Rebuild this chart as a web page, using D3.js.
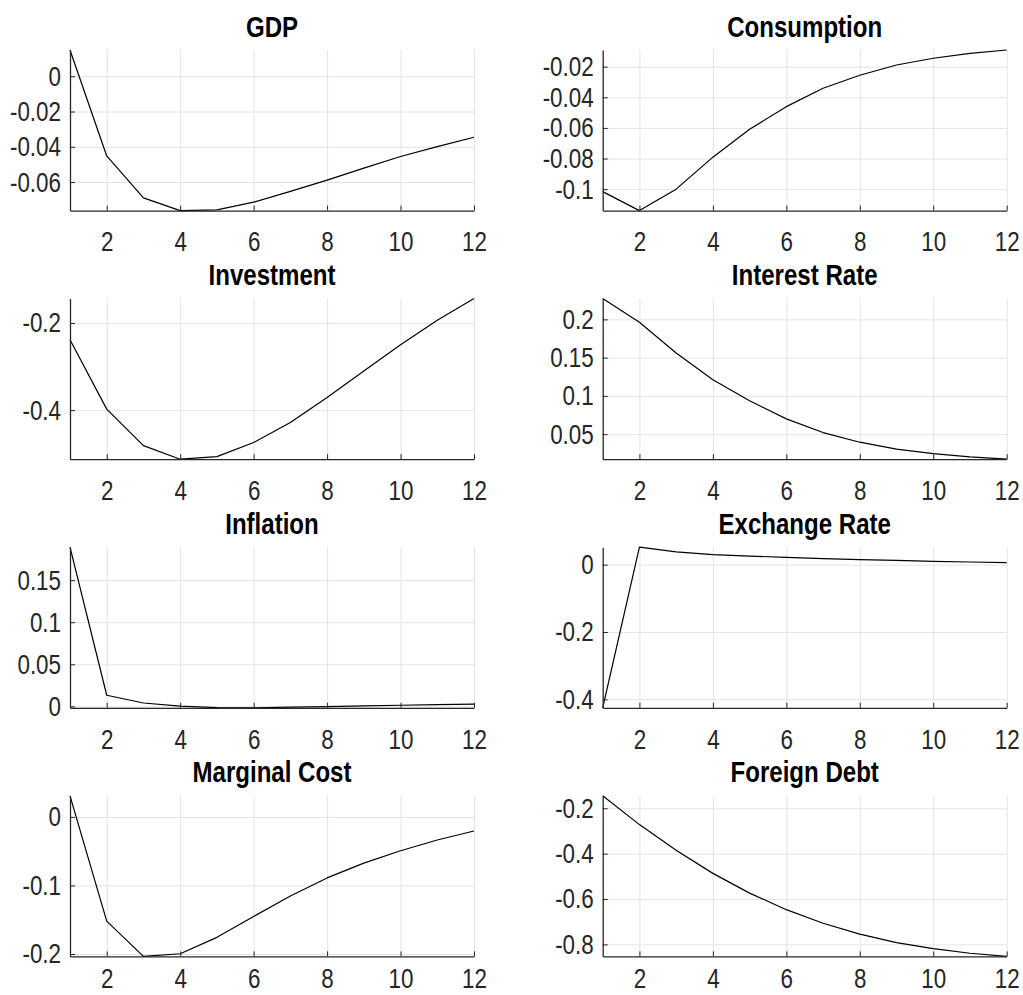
<!DOCTYPE html>
<html>
<head>
<meta charset="utf-8">
<script src="https://cdn.jsdelivr.net/npm/d3@7"></script>
<style>
  html, body { margin: 0; padding: 0; background: #fff; }
  svg { display: block; font-family: "Liberation Sans", Arial, Helvetica, sans-serif; }
</style>
</head>
<body>
<svg id="fig" width="1023" height="995"></svg>
<script>
// Impulse responses over 12 periods
const periods = [1, 2, 3, 4, 5, 6, 7, 8, 9, 10, 11, 12];
const xTicks = [2, 4, 6, 8, 10, 12];

const gdp = [0.0149, -0.0452, -0.0690, -0.0762, -0.0758, -0.0714, -0.0653, -0.0589, -0.0521, -0.0455, -0.0399, -0.0346];
const consumption = [-0.1016, -0.1140, -0.1000, -0.0791, -0.0609, -0.0461, -0.0341, -0.0256, -0.0189, -0.0145, -0.0113, -0.0091];
const investment = [-0.2384, -0.3977, -0.4814, -0.5126, -0.5066, -0.4744, -0.4285, -0.3710, -0.3100, -0.2499, -0.1940, -0.1441];
const interestRate = [0.2271, 0.1961, 0.1560, 0.1211, 0.0936, 0.0700, 0.0521, 0.0395, 0.0304, 0.0246, 0.0203, 0.0173];
const inflation = [0.1891, 0.0132, 0.0040, 0.0004, -0.0015, -0.0017, -0.0010, -0.0003, 0.0006, 0.0013, 0.0020, 0.0027];
const exchangeRate = [-0.4252, 0.0519, 0.0380, 0.0300, 0.0255, 0.0218, 0.0180, 0.0150, 0.0125, 0.0100, 0.0080, 0.0062];
const marginalCost = [0.0308, -0.1520, -0.2035, -0.1996, -0.1757, -0.1452, -0.1154, -0.0890, -0.0674, -0.0494, -0.0337, -0.0205];
const foreignDebt = [-0.145, -0.272, -0.385, -0.487, -0.574, -0.647, -0.707, -0.755, -0.792, -0.819, -0.839, -0.853];

const titles = ["GDP", "Consumption", "Investment", "Interest Rate", "Inflation", "Exchange Rate", "Marginal Cost", "Foreign Debt"];
const series = [gdp, consumption, investment, interestRate, inflation, exchangeRate, marginalCost, foreignDebt];
const yTicks = [
  [0, -0.02, -0.04, -0.06],
  [-0.02, -0.04, -0.06, -0.08, -0.1],
  [-0.2, -0.4],
  [0.05, 0.1, 0.15, 0.2],
  [0, 0.05, 0.1, 0.15],
  [0, -0.2, -0.4],
  [0, -0.1, -0.2],
  [-0.2, -0.4, -0.6, -0.8]
];

// Panel layout (4 rows x 2 columns)
const colLeft = [70, 602.7];
const plotW = 404;
const rowTop0 = 50, rowStep = 248.6, plotH = 160.6;
const xLabelGap = [21, 21, 21, 12];

const tickFont = 28, tickSqueeze = 0.8;
const titleFont = 29, titleSqueeze = 0.83;
const axisColor = "#262626", gridColor = "#e4e4e4";

const fmt = v => String(+v.toFixed(6));
const svg = d3.select("#fig");

series.forEach((vals, i) => {
  const col = i % 2, row = Math.floor(i / 2);
  const left = colLeft[col], top = rowTop0 + row * rowStep;

  const x = d3.scaleLinear().domain([1, 12]).range([0, plotW]);
  const y = d3.scaleLinear().domain(d3.extent(vals)).range([plotH, 0]);

  const g = svg.append("g").attr("transform", `translate(${left},${top})`);

  // grid
  const gx = g.append("g").attr("transform", `translate(0,${plotH})`)
    .call(d3.axisBottom(x).tickValues(xTicks).tickSize(-plotH).tickFormat(""));
  const gy = g.append("g")
    .call(d3.axisLeft(y).tickValues(yTicks[i]).tickSize(-plotW).tickFormat(""));
  [gx, gy].forEach(a => {
    a.select(".domain").remove();
    a.selectAll("line").attr("stroke", gridColor).attr("stroke-width", 1);
  });

  // response line
  const line = d3.line().x((d, k) => x(periods[k])).y(d => y(d));
  g.append("path").datum(vals)
    .attr("d", line)
    .attr("fill", "none")
    .attr("stroke", "#000")
    .attr("stroke-width", 1.2)
    .attr("stroke-linejoin", "round");

  // axes
  const ax = g.append("g").attr("transform", `translate(0,${plotH})`)
    .call(d3.axisBottom(x).tickValues(xTicks).tickSizeInner(-5).tickSizeOuter(0).tickPadding(xLabelGap[row]).tickFormat(fmt));
  const ay = g.append("g")
    .call(d3.axisLeft(y).tickValues(yTicks[i]).tickSizeInner(-5).tickSizeOuter(0).tickPadding(9).tickFormat(fmt));
  [ax, ay].forEach(a => {
    a.select(".domain").attr("stroke", axisColor).attr("stroke-width", 1.3);
    a.selectAll(".tick line").attr("stroke", axisColor).attr("stroke-width", 1);
    a.selectAll(".tick text")
      .attr("fill", axisColor)
      .style("font-size", tickFont + "px");
  });
  ax.selectAll(".tick text").attr("transform", `scale(${tickSqueeze},1)`);
  ay.selectAll(".tick text")
    .attr("x", -9 / tickSqueeze)
    .attr("transform", `scale(${tickSqueeze},1)`);

  // title
  g.append("text")
    .attr("transform", `translate(${plotW / 2},${-13.5}) scale(${titleSqueeze},1)`)
    .attr("text-anchor", "middle")
    .attr("font-weight", "bold")
    .style("font-size", titleFont + "px")
    .attr("fill", "#000")
    .text(titles[i]);
});
</script>
</body>
</html>
